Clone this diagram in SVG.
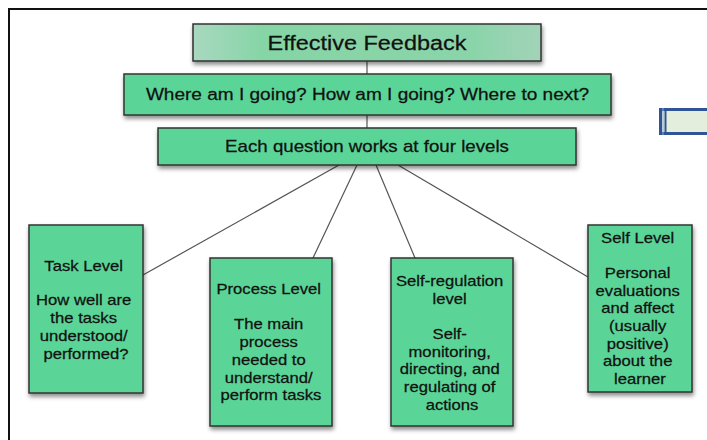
<svg xmlns="http://www.w3.org/2000/svg" width="707" height="440" viewBox="0 0 707 440">
  <defs>
    <filter id="shadow" x="-20%" y="-20%" width="140%" height="150%">
      <feDropShadow dx="1" dy="3" stdDeviation="2" flood-color="#000" flood-opacity="0.45"/>
    </filter>
    <linearGradient id="titleFill" x1="0" y1="0" x2="1" y2="0">
      <stop offset="0" stop-color="#a9d8c0"/>
      <stop offset="0.2" stop-color="#86d5a6"/>
      <stop offset="0.8" stop-color="#8ad4a9"/>
      <stop offset="1" stop-color="#a2d3b8"/>
    </linearGradient>
    <style>
      .box { fill: #5ad597; stroke: #333; stroke-width: 1.5; filter: url(#shadow); }
      .title { fill: url(#titleFill); stroke: #333; stroke-width: 1.5; filter: url(#shadow); }
      .link { stroke: #555; stroke-width: 1.2; fill: none; }
      text { font-family: "Liberation Sans", Arial, sans-serif; fill: #111; stroke: #111; stroke-width: 0.25; text-anchor: middle; }
      .t20 { font-size: 19.7px; }
      .t16 { font-size: 16px; }
      .t14 { font-size: 14px; }
      .frame { stroke: #111; stroke-width: 2; fill: none; }
    </style>
  </defs>

  <rect width="707" height="440" fill="#fff"/>

  <!-- page frame -->
  <path class="frame" d="M9 440 V9 H707"/>

  <!-- side tab -->
  <g id="side-tab">
    <rect x="660.5" y="109.5" width="50" height="24" fill="#e3efdc" stroke="#2f5597" stroke-width="3"/>
    <line x1="663" y1="108" x2="663" y2="135" stroke="#8fa6d3" stroke-width="1"/>
    <line x1="665.5" y1="108" x2="665.5" y2="135" stroke="#2f5597" stroke-width="2"/>
  </g>

  <!-- connectors -->
  <g id="connectors">
    <line class="link" x1="367" y1="61" x2="367" y2="74"/>
    <line class="link" x1="367" y1="115" x2="367" y2="128"/>
    <line class="link" x1="339" y1="165" x2="143" y2="275"/>
    <line class="link" x1="357" y1="165" x2="313" y2="258"/>
    <line class="link" x1="376" y1="165" x2="415" y2="258"/>
    <line class="link" x1="398" y1="165" x2="588" y2="277"/>
  </g>

  <g id="effective-feedback">
    <rect class="title" x="193" y="24" width="348" height="37"/>
    <text class="t20" transform="matrix(1.19 0 0 1 367 50)">Effective Feedback</text>
  </g>

  <g id="questions">
    <rect class="box" x="124" y="74" width="487" height="41"/>
    <text class="t16" transform="matrix(1.19 0 0 1 367.5 100)">Where am I going? How am I going? Where to next?</text>
  </g>

  <g id="four-levels">
    <rect class="box" x="158" y="128" width="418" height="37"/>
    <text class="t16" transform="matrix(1.17 0 0 1 367 152)">Each question works at four levels</text>
  </g>

  <g id="task-level">
    <rect class="box" x="29" y="225" width="114" height="168"/>
    <text class="t14" transform="matrix(1.19 0 0 1 86 0)">
      <tspan x="0" y="271">Task Level</tspan>
      <tspan x="0" y="305.5">How well are</tspan>
      <tspan x="0" y="323.2">the tasks</tspan>
      <tspan x="0" y="340.9">understood/</tspan>
      <tspan x="0" y="358.6">performed?</tspan>
    </text>
  </g>

  <g id="process-level">
    <rect class="box" x="210" y="258" width="122" height="168"/>
    <text class="t14" transform="matrix(1.19 0 0 1 271 0)">
      <tspan x="0" y="294">Process Level</tspan>
      <tspan x="0" y="329.5">The main</tspan>
      <tspan x="0" y="347.2">process</tspan>
      <tspan x="0" y="364.9">needed to</tspan>
      <tspan x="0" y="382.6">understand/</tspan>
      <tspan x="0" y="400.3">perform tasks</tspan>
    </text>
  </g>

  <g id="self-regulation-level">
    <rect class="box" x="391" y="258" width="122" height="168"/>
    <text class="t14" transform="matrix(1.19 0 0 1 452 0)">
      <tspan x="0" y="286">Self-regulation</tspan>
      <tspan x="0" y="303.7">level</tspan>
      <tspan x="0" y="339">Self-</tspan>
      <tspan x="0" y="356.7">monitoring,</tspan>
      <tspan x="0" y="374.4">directing, and</tspan>
      <tspan x="0" y="392.1">regulating of</tspan>
      <tspan x="0" y="409.8">actions</tspan>
    </text>
  </g>

  <g id="self-level">
    <rect class="box" x="588" y="225" width="104" height="167"/>
    <text class="t14" transform="matrix(1.19 0 0 1 640 0)">
      <tspan x="0" y="243">Self Level</tspan>
      <tspan x="0" y="278">Personal</tspan>
      <tspan x="0" y="295.7">evaluations</tspan>
      <tspan x="0" y="313.4">and affect</tspan>
      <tspan x="0" y="331.1">(usually</tspan>
      <tspan x="0" y="348.8">positive)</tspan>
      <tspan x="0" y="366.5">about the</tspan>
      <tspan x="0" y="384.2">learner</tspan>
    </text>
  </g>
</svg>
